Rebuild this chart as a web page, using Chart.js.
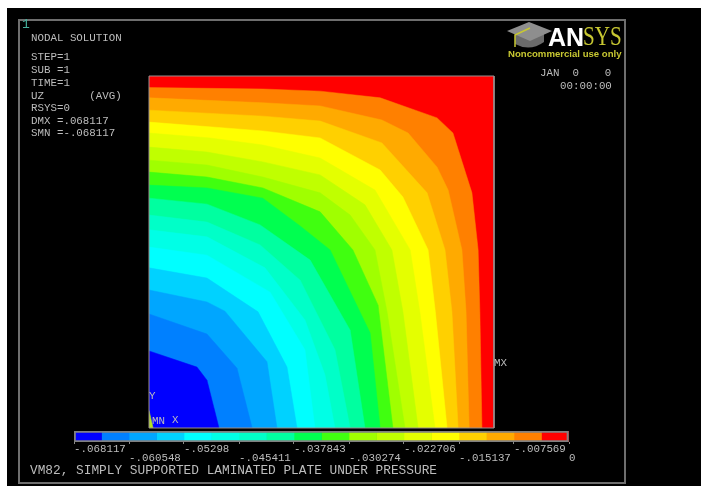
<!DOCTYPE html>
<html>
<head>
<meta charset="utf-8">
<title>VM82 UZ nodal solution</title>
<script src="https://cdn.jsdelivr.net/npm/chart.js@4"></script>
<style>
  html, body { margin: 0; padding: 0; background: #fff; }
  #page { position: relative; width: 701px; height: 486px; overflow: hidden; background: #fff; }
  #screen { position: absolute; left: 7px; top: 8px; width: 694px; height: 478px; background: #000; }
  #frame { position: absolute; left: 18px; top: 19px; width: 604px; height: 461px; border: 2px solid #6e6e6e; }
  canvas { position: absolute; left: 0; top: 0; filter: blur(.4px); }
  .t { position: absolute; font: 10.8px/12px "Liberation Mono", monospace; color: #bdbdbd; white-space: pre; filter: blur(.3px); }
  .title { font-size: 12.8px; }
  .brand { position: absolute; white-space: pre; }
</style>
</head>
<body>
<div id="page">
  <div id="screen"></div>
  <div id="frame"></div>
  <canvas id="plateChart" width="701" height="486"></canvas>
  <canvas id="barChart" width="701" height="486"></canvas>

  <div class="t" style="left:22px;top:19px;color:#45b09c;font-size:13px">1</div>
  <div class="t" style="left:31px;top:32px">NODAL SOLUTION</div>
  <div class="t" style="left:31px;top:51px">STEP=1</div>
  <div class="t" style="left:31px;top:64px">SUB =1</div>
  <div class="t" style="left:31px;top:77px">TIME=1</div>
  <div class="t" style="left:31px;top:90px">UZ       (AVG)</div>
  <div class="t" style="left:31px;top:102px">RSYS=0</div>
  <div class="t" style="left:31px;top:115px">DMX =.068117</div>
  <div class="t" style="left:31px;top:127px">SMN =-.068117</div>
  <div class="t" style="left:540px;top:67px">JAN  0    0</div>
  <div class="t" style="left:560px;top:80px">00:00:00</div>
  <div class="t" style="left:149px;top:390px">Y</div>
  <div class="t" style="left:152px;top:415px">MN</div>
  <div class="t" style="left:172px;top:414px">X</div>
  <div class="t" style="left:494px;top:357px">MX</div>
  <div class="t title" style="left:30px;top:465px">VM82, SIMPLY SUPPORTED LAMINATED PLATE UNDER PRESSURE</div>

  <svg style="position:absolute;left:505px;top:20px" width="50" height="30" viewBox="505 20 50 30">
    <path d="M515 32 L515 44 Q530 52 544 42 L544 32 Z" fill="#6b6b6b"/>
    <path d="M529 22 L552 31 L530 41 L507 31 Z" fill="#8e8e8e"/>
    <path d="M530 28 L515 35 L515 47" fill="none" stroke="#c8c832" stroke-width="1.5"/>
  </svg>
  <div class="brand" style="left:548px;top:22px;font:bold 25px/30px 'Liberation Sans';color:#fff">AN</div>
  <div class="brand" style="left:583px;top:21px;font:27px/31px 'Liberation Serif';color:#c8c832;transform:scaleX(.78);transform-origin:left">SYS</div>
  <div class="brand" style="left:508px;top:48px;font:bold 9.6px/12px 'Liberation Sans';color:#c8c832">Noncommercial use only</div>
</div>

<script>
// warna kontur, dari nilai UZ terendah ke tertinggi
const bandColors = ["#0000ff", "#0080ff", "#00a6ff", "#00d2ff", "#00ffff", "#00ffe6",
  "#00ffc8", "#00ffa0", "#00ff50", "#40ff10", "#a0ff00", "#c0ff00",
  "#e4ff00", "#ffff00", "#ffd000", "#ffaa00", "#ff8000", "#ff0000"];

// batas antar pita warna
const bandEdges = [-0.068117, -0.064333, -0.060548, -0.056764, -0.05298, -0.049196,
  -0.045411, -0.041627, -0.037843, -0.034059, -0.030274, -0.02649,
  -0.022706, -0.018922, -0.015137, -0.011353, -0.007569, -0.003784, 0];

const tickValues = [-0.068117, -0.060548, -0.05298, -0.045411, -0.037843,
  -0.030274, -0.022706, -0.015137, -0.007569, 0];
const tickLabels = ["-.068117", "-.060548", "-.05298", "-.045411", "-.037843",
  "-.030274", "-.022706", "-.015137", "-.007569", "0"];

// garis kontur, posisi dalam persen sisi pelat: [x, y]
const contour01 = [[0,21.9],[13.9,17.3],[16.8,13.6],[20.3,0]];
const contour02 = [[0,32.4],[16.8,26.7],[25.5,17],[29.9,0]];
const contour03 = [[0,39.2],[16.8,35.8],[22,33.2],[34.2,18.8],[37.1,0]];
const contour04 = [[0,45.5],[16.8,42.6],[31.6,33],[40,17.3],[42.9,0]];
const contour05 = [[0,51.4],[16.8,49.1],[35.1,38.6],[45.2,22.2],[48.1,0]];
const contour06 = [[0,56.3],[16.8,54.3],[33.6,45.5],[45.2,30.7],[51,15.1],[53.9,0]];
const contour07 = [[0,60.5],[16.8,58.5],[32.2,52],[43.8,42],[53.9,22.2],[58.3,0]];
const contour08 = [[0,65.3],[16.8,63.6],[32.2,57.7],[46.7,47.7],[58.3,27.8],[62.6,0]];
const contour09 = [[0,69],[16.8,68.2],[33,65.3],[43.8,57.4],[52.5,50.6],[64.1,27],[67,0]];
const contour10 = [[0,72.7],[16.8,71.3],[33,68.2],[49.6,61.4],[59.1,50.6],[66.4,34.9],[70.7,0]];
const contour11 = [[0,76.1],[16.8,74.7],[33,71.3],[49.6,66.8],[58.3,60.5],[65.5,50.6],[69,33],[74.2,0]];
const contour12 = [[0,79.8],[16.8,78.4],[33,75.6],[49.6,71.9],[62.6,63.4],[70.4,50.6],[73.6,33],[78,0]];
const contour13 = [[0,83.8],[17.7,82.4],[33,80.4],[49.6,76.7],[65.5,67.6],[75.7,50.6],[78.5,33],[82.9,0]];
const contour14 = [[0,86.9],[33,84.4],[49.6,82.4],[67,73.3],[73.6,65.6],[80.9,50.6],[83,33],[86.4,0]];
const contour15 = [[0,90.3],[33,88.6],[49.6,87.2],[67.5,81],[80.6,66.8],[85.8,50.6],[87.8,33],[89.6,0]];
const contour16 = [[0,93.8],[33,92.4],[49.6,91.5],[67.5,87.5],[75.1,83.8],[83.5,74.1],[86.7,67.6],[90.7,50.6],[91.9,33],[92.8,0]];
const contour17 = [[0,96.7],[33,96.3],[49.6,95.7],[67,93.8],[83.5,88.1],[88.1,83.8],[93.6,66.8],[95.4,50.6],[95.9,33],[96.5,0]];
const plateEdge = [[0,100],[100,100],[100,0]];
const triadSliver = [[0,5],[1.2,0]];

const contours = [contour01, contour02, contour03, contour04, contour05, contour06,
  contour07, contour08, contour09, contour10, contour11, contour12,
  contour13, contour14, contour15, contour16, contour17, plateEdge];

// tutup poligon lewat titik pusat pelat
function toRegion(line) {
  return line.concat([[0, 0]]).map((p) => ({ x: p[0], y: p[1] }));
}

function regionDataset(line, color) {
  return {
    data: toRegion(line),
    showLine: true,
    fill: "shape",
    backgroundColor: color,
    borderColor: color,
    borderWidth: 0.5,
    pointRadius: 0,
    tension: 0,
  };
}

const plateDatasets = [
  {
    data: toRegion(plateEdge).concat([{ x: 0, y: 100 }]),
    showLine: true,
    fill: false,
    borderColor: "#9a8f8f",
    borderWidth: 1,
    pointRadius: 0,
    clip: false,
  },
  regionDataset(triadSliver, "#b4e61e"),
  ...contours.map((line, i) => regionDataset(line, bandColors[i])),
];

new Chart(document.getElementById("plateChart"), {
  type: "scatter",
  data: { datasets: plateDatasets },
  options: {
    responsive: false,
    animation: false,
    layout: { padding: { left: 149, right: 207, top: 76, bottom: 58 } },
    plugins: { legend: { display: false }, tooltip: { enabled: false } },
    scales: {
      x: { type: "linear", min: 0, max: 100, display: false },
      y: { type: "linear", min: 0, max: 100, display: false },
    },
  },
});

const barDatasets = [
  {
    data: [[tickValues[0], 0]],
    backgroundColor: "transparent",
    borderColor: "#808080",
    borderWidth: 1.5,
    borderSkipped: false,
  },
  ...bandColors.map((color, i) => ({
    data: [[bandEdges[i], bandEdges[i + 1]]],
    backgroundColor: color,
    borderWidth: 0,
  })),
];

new Chart(document.getElementById("barChart"), {
  type: "bar",
  data: { labels: ["UZ"], datasets: barDatasets },
  options: {
    indexAxis: "y",
    responsive: false,
    animation: false,
    layout: { padding: { left: 74, right: 132, top: 431, bottom: 20 } },
    plugins: { legend: { display: false }, tooltip: { enabled: false } },
    datasets: { bar: { grouped: false, barPercentage: 1, categoryPercentage: 1 } },
    scales: {
      y: { display: false },
      x: {
        type: "linear",
        min: tickValues[0],
        max: 0,
        border: { display: false },
        grid: { drawOnChartArea: false, drawTicks: true, tickLength: 2, color: "#8c8c8c" },
        afterBuildTicks: (scale) => { scale.ticks = tickValues.map((value) => ({ value })); },
        afterFit: (scale) => { scale.height = 24; },
        ticks: {
          autoSkip: false,
          maxRotation: 0,
          align: "start",
          padding: 0,
          color: "#bdbdbd",
          font: { family: "'Liberation Mono', monospace", size: 10.8, lineHeight: 0.9 },
          callback: (value, index) => (index % 2 ? ["", tickLabels[index]] : tickLabels[index]),
        },
      },
    },
  },
});
</script>
</body>
</html>
